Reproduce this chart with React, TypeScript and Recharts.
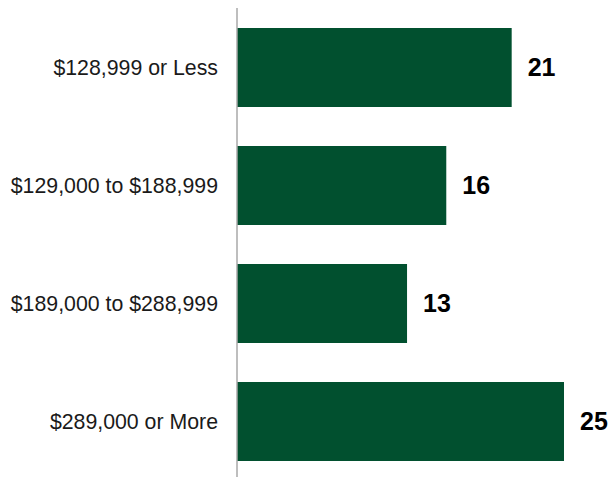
import { Bar, BarChart, LabelList, XAxis, YAxis } from "recharts";

const priceRanges = [
  "$128,999 or Less",
  "$129,000 to $188,999",
  "$189,000 to $288,999",
  "$289,000 or More",
];
const salesCounts = [21, 16, 13, 25];

const chartData = priceRanges.map((range, i) => ({
  range,
  count: salesCounts[i],
}));

const fontStack = '"Liberation Sans", Arial, Helvetica, sans-serif';

function App() {
  return (
    <div
      style={{
        position: "fixed",
        left: 0,
        top: 0,
        width: 610,
        height: 477,
        overflow: "hidden",
        background: "#fff",
      }}
    >
      <BarChart
        width={610}
        height={480}
        data={chartData}
        layout="vertical"
        margin={{ top: 8, right: 46, bottom: 0, left: 0 }}
      >
        <XAxis type="number" domain={[0, 25]} hide />
        <YAxis
          type="category"
          dataKey="range"
          width={237}
          axisLine={{ stroke: "#a8a8a8", strokeWidth: 1.5 }}
          tickLine={false}
          tickSize={0}
          tickMargin={19}
          tick={{ fill: "#1a1a1a", fontSize: 21.3, fontFamily: fontStack }}
        />
        <Bar
          dataKey="count"
          fill="#01502f"
          barSize={79}
          isAnimationActive={false}
        >
          <LabelList
            dataKey="count"
            position="right"
            offset={16}
            style={{
              fill: "#000",
              fontSize: 25,
              fontWeight: 700,
              fontFamily: fontStack,
            }}
          />
        </Bar>
      </BarChart>
    </div>
  );
}

export default App;
